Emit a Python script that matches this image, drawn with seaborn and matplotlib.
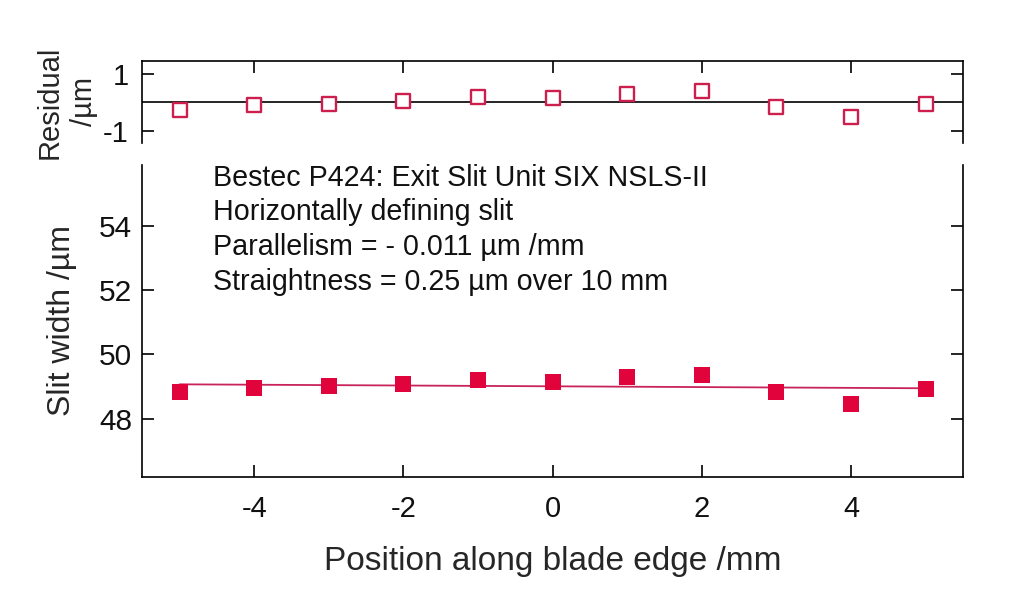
import numpy as np
import pandas as pd
import matplotlib
matplotlib.use("Agg")
import matplotlib.pyplot as plt
import seaborn as sns

# ---- data ----
position_mm = [-5, -4, -3, -2, -1, 0, 1, 2, 3, 4, 5]
slit_width_um = [48.82, 48.95, 49.00, 49.08, 49.21, 49.14, 49.29, 49.37, 48.83, 48.45, 48.92]
residual_um = [-0.28, -0.105, -0.05, 0.045, 0.17, 0.14, 0.29, 0.38, -0.16, -0.51, -0.05]
x_ticks = [-4, -2, 0, 2, 4]
main_y_ticks = [48, 50, 52, 54]
res_y_ticks = [-1, 1]
annotation_lines = [
    "Bestec P424: Exit Slit Unit SIX NSLS-II",
    "Horizontally defining slit",
    "Parallelism = - 0.011 \u00b5m /mm",
    "Straightness = 0.25 \u00b5m over 10 mm",
]

FILL = "#E0033C"
EDGE = "#CC1F4E"
LINE = "#C8245A"

sns.set_theme(style="white")
plt.rcParams["font.family"] = ["Liberation Sans", "DejaVu Sans"]
plt.rcParams["axes.unicode_minus"] = False
plt.rcParams["axes.edgecolor"] = "black"
plt.rcParams["text.color"] = "#111111"
plt.rcParams["xtick.color"] = "black"
plt.rcParams["ytick.color"] = "black"
plt.rcParams["xtick.labelcolor"] = "#111111"
plt.rcParams["ytick.labelcolor"] = "#111111"

df = pd.DataFrame({"pos": position_mm, "width": slit_width_um, "res": residual_um})
slope, intercept = np.polyfit(df["pos"], df["width"], 1)
fit_x = [min(position_mm), max(position_mm)]
fit_df = pd.DataFrame({"x": fit_x, "y": [slope * v + intercept for v in fit_x]})

fig = plt.figure(figsize=(10.24, 5.89), dpi=100)
fig.patch.set_facecolor("white")
ax_r = fig.add_axes([0.139, 0.7572, 0.8014, 0.1397])
ax_m = fig.add_axes([0.139, 0.1907, 0.8014, 0.5292])

# main panel
sns.lineplot(data=fit_df, x="x", y="y", ax=ax_m, color=LINE, linewidth=1.3, zorder=2)
sns.scatterplot(data=df, x="pos", y="width", ax=ax_m, marker="s", s=132,
                color=FILL, edgecolor="none", linewidth=0, zorder=3)

# residual panel
ax_r.axhline(0, color="black", linewidth=1.2, zorder=1)
sns.scatterplot(data=df, x="pos", y="res", ax=ax_r, marker="s", s=108,
                color=EDGE, facecolor="white", edgecolor=EDGE, linewidth=1.7, zorder=3)

for ax in (ax_m, ax_r):
    ax.set_xlim(-5.5, 5.5)
    ax.set_xticks(x_ticks)
    for sp in ax.spines.values():
        sp.set_linewidth(1.2)
        sp.set_color("black")
    ax.grid(False)

ax_m.set_ylim(46.19, 55.9)
ax_m.set_yticks(main_y_ticks)
ax_r.set_ylim(-1.42, 1.45)
ax_r.set_yticks(res_y_ticks)

ax_m.spines["top"].set_visible(False)
ax_r.spines["bottom"].set_visible(False)

ax_m.tick_params(axis="x", direction="in", length=8.6, width=1.2, bottom=True, top=False,
                 labelsize=21, pad=13)
ax_m.tick_params(axis="y", direction="in", length=8.6, width=1.2, left=True, right=True,
                 labelsize=21.5, pad=7.5)
ax_r.tick_params(axis="x", direction="in", length=8.6, width=1.2, top=True, bottom=False,
                 labelbottom=False, labeltop=False)
ax_r.tick_params(axis="y", direction="in", length=8.6, width=1.2, left=True, right=True,
                 labelsize=21, pad=10)

ax_m.set_xlabel("Position along blade edge /mm", fontsize=24)
ax_m.xaxis.set_label_coords(0.5, -0.222)
ax_m.set_ylabel("Slit width /\u00b5m", fontsize=23)
ax_m.yaxis.set_label_coords(-0.0796, 0.5)
ax_r.set_xlabel("")
ax_r.set_ylabel("Residual\n/\u00b5m", fontsize=21, linespacing=1.3)
ax_r.yaxis.set_label_coords(-0.054, 0.5)

for i, line in enumerate(annotation_lines):
    ax_m.text(0.0865, 0.9336 - i * 0.1116, line, transform=ax_m.transAxes,
              fontsize=20.6, va="baseline", ha="left", color="#111111")

fig.savefig("out.png", dpi=100, facecolor="white")
